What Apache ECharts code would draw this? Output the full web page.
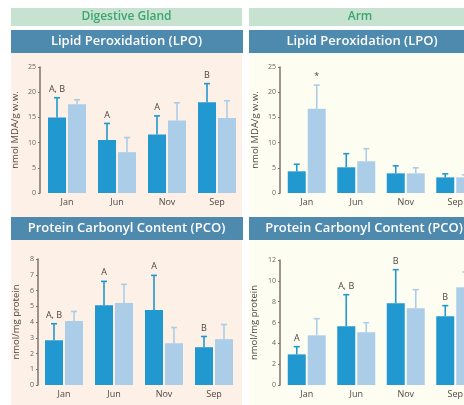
<!DOCTYPE html>
<html>
<head>
<meta charset="utf-8">
<script src="https://cdn.jsdelivr.net/npm/echarts@6/dist/echarts.min.js"></script>
<style>
  html, body { margin: 0; padding: 0; background: #fff; }
  #main { width: 464px; height: 405px; }
</style>
</head>
<body>
<div id="main"></div>
<script>
// months on the x axis
var months = ['Jan', 'Jun', 'Nov', 'Sep'];

// Digestive gland - LPO (nmol MDA/g w.w.)
var dgLpoDark = [15.0, 10.5, 11.6, 18.0];
var dgLpoDarkSd = [3.9, 3.3, 3.7, 3.7];
var dgLpoLight = [17.6, 8.1, 14.4, 14.9];
var dgLpoLightSd = [0.9, 2.9, 3.5, 3.4];
var dgLpoLetters = ['A, B', 'A', 'A', 'B'];

// Arm - LPO
var armLpoDark = [4.3, 5.1, 3.9, 3.1];
var armLpoDarkSd = [1.4, 2.7, 1.5, 0.7];
var armLpoLight = [16.7, 6.3, 3.9, 3.1];
var armLpoLightSd = [4.7, 2.5, 1.1, 0.5];
var armLpoStars = ['*', '', '', ''];

// Digestive gland - PCO (nmol/mg protein)
var dgPcoDark = [2.84, 5.07, 4.76, 2.40];
var dgPcoDarkSd = [1.05, 1.51, 2.20, 0.68];
var dgPcoLight = [4.06, 5.20, 2.65, 2.91];
var dgPcoLightSd = [0.61, 1.19, 1.00, 0.93];
var dgPcoLetters = ['A, B', 'A', 'A', 'B'];

// Arm - PCO
var armPcoDark = [2.94, 5.63, 7.84, 6.59];
var armPcoDarkSd = [0.74, 3.04, 3.23, 1.03];
var armPcoLight = [4.77, 5.06, 7.36, 9.38];
var armPcoLightSd = [1.60, 0.92, 1.79, 1.47];
var armPcoLetters = ['A', 'A, B', 'B', 'B'];

var DARK = '#2198cf';
var LIGHT = '#abcde8';
var HEAD = '#4e89ae';
var AXIS = '#7f746e';
var TXT = '#4f4744';
var FONT = 'Open Sans';

function errData(means, sds) {
    var out = [];
    for (var i = 0; i < means.length; i++) {
        out.push([i, means[i], means[i] + sds[i]]);
    }
    return out;
}

/**
 * error whisker (upper only) with cap and optional letter above
 */
function errRender(shift, color, labels) {
    return function(params, api) {
        var i = params.dataIndex;
        var p0 = api.coord([i, api.value(1)]);
        var p1 = api.coord([i, api.value(2)]);
        var x = p0[0] + shift;
        var kids = [{
            type: 'line',
            shape: { x1: x, y1: p0[1], x2: x, y2: p1[1] },
            style: { stroke: color, lineWidth: 1.6 }
        }, {
            type: 'line',
            shape: { x1: x - 3, y1: p1[1], x2: x + 3, y2: p1[1] },
            style: { stroke: color, lineWidth: 1.6 }
        }];
        if (labels && labels[i]) {
            kids.push({
                type: 'text',
                style: {
                    x: x, y: p1[1] - 4, text: labels[i],
                    align: 'center', verticalAlign: 'bottom',
                    fill: TXT, font: '9px "' + FONT + '"'
                }
            });
        }
        return { type: 'group', children: kids };
    };
}

function xAx(gi) {
    return {
        type: 'category', gridIndex: gi, data: months,
        axisLine: { show: false }, axisTick: { show: false },
        axisLabel: { color: TXT, fontSize: 9, fontFamily: FONT, margin: 5 }
    };
}

function yAx(gi, max, interval, name, gap, off) {
    return {
        type: 'value', gridIndex: gi, min: 0, max: max, interval: interval,
        offset: off,
        name: name, nameLocation: 'middle', nameGap: gap, nameRotate: 90,
        nameTextStyle: { color: TXT, fontSize: 9.5, fontFamily: FONT },
        axisLine: { show: true, lineStyle: { color: AXIS, width: 1.5 } },
        axisTick: { show: true, length: 2, lineStyle: { color: AXIS, width: 1.2 } },
        axisLabel: { color: '#6b625e', fontSize: 7, fontFamily: FONT, margin: 4 },
        splitLine: { show: false }
    };
}

function bars(gi, dark, light) {
    return [{
        type: 'bar', xAxisIndex: gi, yAxisIndex: gi, data: dark,
        barWidth: 18, barGap: '11%', itemStyle: { color: DARK }
    }, {
        type: 'bar', xAxisIndex: gi, yAxisIndex: gi, data: light,
        barWidth: 18, barGap: '11%', itemStyle: { color: LIGHT }
    }];
}

function errs(gi, dark, darkSd, light, lightSd, darkLab, lightLab) {
    return [{
        type: 'custom', xAxisIndex: gi, yAxisIndex: gi, z: 3,
        data: errData(dark, darkSd), renderItem: errRender(-10, DARK, darkLab)
    }, {
        type: 'custom', xAxisIndex: gi, yAxisIndex: gi, z: 3,
        data: errData(light, lightSd), renderItem: errRender(10, LIGHT, lightLab)
    }];
}

function header(x, y, w, h, fill, text, cx, color, size) {
    return [{
        type: 'rect', z: -10, shape: { x: x, y: y, width: w, height: h },
        style: { fill: fill }
    }, {
        type: 'text', z: -9,
        style: {
            x: cx, y: y + h / 2, text: text, align: 'center', verticalAlign: 'middle',
            fill: color, font: '600 ' + size + 'px "' + FONT + '"'
        }
    }];
}

var graphics = [].concat(
    header(11, 8, 231, 18, '#c8e2d2', 'Digestive Gland', 126.5, '#3aa76c', 12),
    header(249, 8, 230, 18, '#c8e2d2', 'Arm', 360, '#3aa76c', 12),
    [{ type: 'rect', z: -10, shape: { x: 11, y: 53, width: 231, height: 352 }, style: { fill: '#fcf0e7' } },
     { type: 'rect', z: -10, shape: { x: 249, y: 53, width: 230, height: 352 }, style: { fill: '#fefdf2' } }],
    header(11, 30, 232, 23, HEAD, 'Lipid Peroxidation (LPO)', 126.5, '#fff', 13),
    header(249, 30, 230, 23, HEAD, 'Lipid Peroxidation (LPO)', 362, '#fff', 13),
    header(11, 217, 232, 23, HEAD, 'Protein Carbonyl Content (PCO)', 126.5, '#fff', 13),
    header(249, 217, 230, 23, HEAD, 'Protein Carbonyl Content (PCO)', 364, '#fff', 13)
);

var option = {
    animation: false,
    graphic: graphics,
    grid: [
        { left: 42, top: 67, width: 200, height: 126, outerBoundsMode: 'none' },
        { left: 282, top: 67, width: 198, height: 126, outerBoundsMode: 'none' },
        { left: 39, top: 259, width: 200, height: 126, outerBoundsMode: 'none' },
        { left: 282, top: 260, width: 198, height: 125, outerBoundsMode: 'none' }
    ],
    xAxis: [xAx(0), xAx(1), xAx(2), xAx(3)],
    yAxis: [
        yAx(0, 25, 5, 'nmol MDA/g w.w.', 20, 2),
        yAx(1, 25, 5, 'nmol MDA/g w.w.', 20, 2),
        yAx(2, 8, 1, 'nmol/mg protein', 17, 1),
        yAx(3, 12, 2, 'nmol/mg protein', 21, 2)
    ],
    series: [].concat(
        bars(0, dgLpoDark, dgLpoLight),
        errs(0, dgLpoDark, dgLpoDarkSd, dgLpoLight, dgLpoLightSd, dgLpoLetters, null),
        bars(1, armLpoDark, armLpoLight),
        errs(1, armLpoDark, armLpoDarkSd, armLpoLight, armLpoLightSd, null, armLpoStars),
        bars(2, dgPcoDark, dgPcoLight),
        errs(2, dgPcoDark, dgPcoDarkSd, dgPcoLight, dgPcoLightSd, dgPcoLetters, null),
        bars(3, armPcoDark, armPcoLight),
        errs(3, armPcoDark, armPcoDarkSd, armPcoLight, armPcoLightSd, armPcoLetters, null)
    )
};

var myChart = echarts.init(document.getElementById('main'));
myChart.setOption(option);
</script>
</body>
</html>
